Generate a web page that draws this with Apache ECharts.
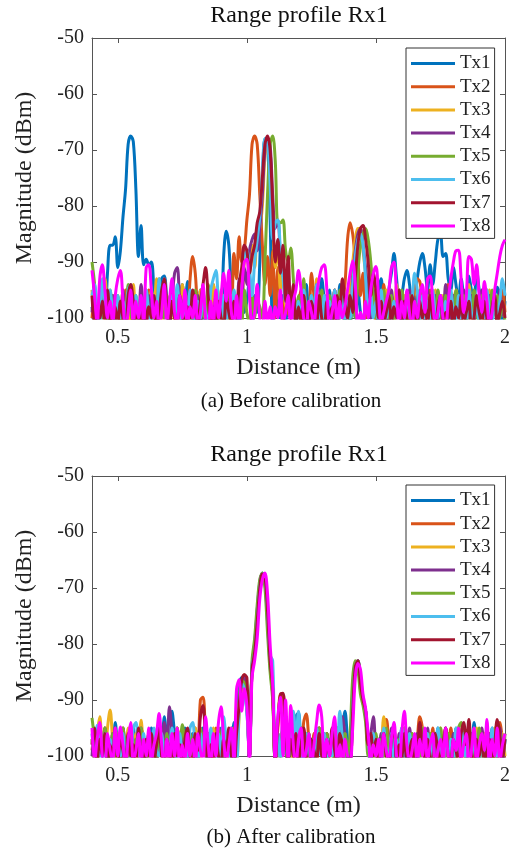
<!DOCTYPE html>
<html><head><meta charset="utf-8">
<script src="https://cdn.jsdelivr.net/npm/echarts@6/dist/echarts.min.js"></script>
<style>html,body{margin:0;padding:0;background:#fff}#c{width:513px;height:850px}</style>
</head><body><div id="c"></div>
<script>
// Distance samples (m)
const xs = [0.40,0.41,0.42,0.43,0.44,0.45,0.46,0.47,0.48,0.49,
0.50,0.51,0.52,0.53,0.54,0.55,0.56,0.57,0.58,0.59,
0.60,0.61,0.62,0.63,0.64,0.65,0.66,0.67,0.68,0.69,
0.70,0.71,0.72,0.73,0.74,0.75,0.76,0.77,0.78,0.79,
0.80,0.81,0.82,0.83,0.84,0.85,0.86,0.87,0.88,0.89,
0.90,0.91,0.92,0.93,0.94,0.95,0.96,0.97,0.98,0.99,
1.00,1.01,1.02,1.03,1.04,1.05,1.06,1.07,1.08,1.09,
1.10,1.11,1.12,1.13,1.14,1.15,1.16,1.17,1.18,1.19,
1.20,1.21,1.22,1.23,1.24,1.25,1.26,1.27,1.28,1.29,
1.30,1.31,1.32,1.33,1.34,1.35,1.36,1.37,1.38,1.39,
1.40,1.41,1.42,1.43,1.44,1.45,1.46,1.47,1.48,1.49,
1.50,1.51,1.52,1.53,1.54,1.55,1.56,1.57,1.58,1.59,
1.60,1.61,1.62,1.63,1.64,1.65,1.66,1.67,1.68,1.69,
1.70,1.71,1.72,1.73,1.74,1.75,1.76,1.77,1.78,1.79,
1.80,1.81,1.82,1.83,1.84,1.85,1.86,1.87,1.88,1.89,
1.90,1.91,1.92,1.93,1.94,1.95,1.96,1.97,1.98,1.99,
2.00];
const names = ['Tx1','Tx2','Tx3','Tx4','Tx5','Tx6','Tx7','Tx8'];
const colors = ['#0072BD','#D95319','#EDB120','#7E2F8E','#77AC30','#4DBEEE','#A2142F','#FF00FF'];
const xTicks = [0.5, 1, 1.5, 2];

// (a) Before calibration, magnitude in dBm
const before_Tx1 = [-98,-101,-97,-100,-99,-100,-92,-87,-87,-85.5,
-91,-88,-82,-77,-69,-67.5,-68.5,-77,-89,-83.5,
-90.5,-89.5,-90.5,-90,-95,-100,-97,-93,-92.5,-97,
-101,-96,-99,-100,-97,-94,-100,-93.5,-97,-101,
-98,-100,-95,-101,-99,-96,-100,-97,-101,-98,
-100,-89,-84.5,-87,-95,-100,-96,-101,-95,-99,
-97,-93,-101,-96,-99,-90,-76,-68,-69,-82,
-101,-95,-99,-100,-96,-101,-97,-100,-95,-99,
-100,-97,-101,-94,-99,-100,-96,-101,-98,-93,
-97,-101,-95,-100,-98,-101,-94,-100,-97,-99,
-101,-96,-100,-95,-99,-101,-97,-100,-94,-99,
-100,-96,-93,-98,-101,-95,-92,-88.5,-93,-97,
-96,-93,-91.5,-94,-98,-96,-93,-90,-88.5,-91,
-95,-90.5,-94,-90,-86,-85,-89,-88.5,-93,-95,
-91,-94,-97,-93,-96,-98,-92.5,-95,-97,-91.5,
-95,-98,-96,-99,-97,-100,-96,-94.5,-98,-101,
-97];
const before_Tx2 = [-100,-96,-101,-98,-95,-100,-97,-101,-96,-99,
-101,-97,-100,-95,-99,-101,-96,-100,-98,-101,
-97,-100,-95,-99,-101,-96,-100,-97,-94,-99,
-101,-96,-100,-98,-95,-101,-97,-100,-93,-89,
-92,-99,-101,-95,-100,-97,-101,-94,-99,-100,
-96,-101,-98,-95,-100,-88.5,-93,-85.5,-90,-88,
-82.5,-78,-69,-67.5,-69,-78,-87,-94,-89,-96,
-88,-100,-91,-97,-101,-94,-99,-100,-96,-101,
-98,-95,-100,-97,-101,-92,-96,-100,-98,-101,
-96,-100,-97,-101,-95,-99,-100,-97,-94,-86,
-83,-85,-89,-90,-96,-92,-100,-95,-99,-95,
-101,-97,-100,-94,-99,-101,-96,-100,-98,-95,
-99,-101,-96,-100,-97,-95,-93,-93.5,-97,-101,
-98,-95,-100,-97,-101,-96,-99,-100,-94,-99,
-101,-96,-100,-98,-95,-101,-97,-100,-96,-99,
-100,-97,-101,-95,-99,-100,-96,-101,-98,-95,
-99];
const before_Tx3 = [-95,-101,-97,-100,-96,-93,-99,-101,-96,-100,
-97,-101,-95,-100,-98,-101,-94,-99,-100,-96,
-101,-97,-100,-95,-99,-93,-97,-101,-96,-100,
-98,-95,-101,-97,-100,-94,-99,-101,-96,-100,
-97,-101,-95,-99,-100,-96,-101,-94,-98,-100,
-95,-100,-97,-101,-96,-99,-100,-94,-97,-90,
-88,-92,-87,-91,-85,-84,-80,-71,-68,-70,
-82,-91,-87,-95,-90,-98,-93,-100,-96,-101,
-97,-100,-94,-99,-101,-96,-100,-93,-98,-101,
-96,-100,-97,-101,-95,-99,-100,-96,-101,-98,
-93,-90,-86,-84,-84,-88,-92,-95,-99,-93,
-100,-96,-101,-98,-95,-100,-97,-101,-94,-99,
-100,-96,-101,-97,-99,-100,-95,-101,-98,-96,
-100,-97,-101,-95,-99,-100,-96,-101,-98,-100,
-97,-95,-99,-101,-96,-100,-94,-98,-101,-97,
-100,-96,-99,-101,-95,-100,-97,-101,-96,-99,
-100];
const before_Tx4 = [-99,-96,-101,-97,-100,-95,-99,-101,-96,-100,
-97,-101,-95,-100,-98,-96,-101,-97,-100,-94,
-99,-101,-96,-100,-97,-101,-95,-99,-100,-96,
-101,-97,-92,-91,-97,-100,-96,-101,-95,-99,
-100,-96,-101,-97,-100,-95,-99,-101,-96,-100,
-97,-101,-95,-99,-100,-96,-101,-93,-97,-91,
-94,-88,-86,-85,-88,-84,-78,-70,-68,-69,
-78,-84,-82.5,-89,-92,-97,-93,-100,-96,-101,
-98,-100,-95,-99,-101,-96,-100,-94,-99,-101,
-96,-100,-97,-101,-95,-99,-100,-97,-101,-96,
-99,-93,-88,-85,-84,-87,-91,-96,-100,-95,
-99,-101,-96,-100,-97,-101,-95,-99,-100,-96,
-101,-97,-100,-95,-99,-101,-96,-100,-97,-101,
-95,-99,-100,-96,-101,-97,-100,-94,-99,-101,
-96,-100,-97,-101,-95,-99,-100,-96,-101,-97,
-100,-95,-99,-101,-96,-100,-97,-101,-95,-99,
-100];
const before_Tx5 = [-90,-94,-101,-96,-100,-97,-101,-95,-99,-100,
-96,-101,-97,-100,-94,-99,-101,-96,-100,-97,
-101,-95,-99,-100,-96,-101,-93,-98,-100,-96,
-101,-97,-100,-95,-99,-101,-96,-100,-97,-101,
-95,-99,-100,-96,-101,-94,-99,-100,-96,-101,
-97,-100,-95,-99,-101,-96,-100,-97,-101,-95,
-99,-101,-96,-100,-97,-98,-100,-90,-78,-69,
-67.5,-72,-83,-83,-82.5,-88,-90,-87.5,-93,-99,
-96,-101,-93,-99,-100,-96,-101,-97,-100,-95,
-99,-101,-96,-100,-97,-101,-95,-99,-100,-96,
-101,-97,-100,-92,-87,-85,-84,-86,-90,-96,
-100,-97,-101,-95,-99,-100,-96,-101,-97,-100,
-95,-99,-101,-96,-100,-97,-101,-95,-99,-100,
-96,-101,-97,-100,-95,-99,-101,-96,-100,-97,
-101,-95,-99,-100,-96,-101,-97,-100,-95,-99,
-101,-96,-100,-97,-101,-95,-99,-96,-100,-97,
-101];
const before_Tx6 = [-96,-94,-99,-101,-93,-97,-100,-95,-99,-101,
-96,-100,-97,-101,-95,-94,-100,-96,-101,-97,
-100,-95,-99,-101,-96,-100,-93,-97,-93,-99,
-101,-96,-100,-94,-99,-101,-96,-100,-95,-99,
-101,-97,-100,-96,-99,-101,-95,-93,-91.5,-97,
-100,-96,-101,-97,-100,-95,-99,-101,-93,-89,
-88,-91,-96,-90,-86,-82,-74,-68,-68.5,-76,
-86,-83,-82.5,-88,-93,-97,-92,-100,-96,-101,
-97,-100,-95,-99,-101,-96,-100,-94,-99,-101,
-96,-100,-97,-101,-95,-99,-100,-96,-101,-97,
-100,-94,-89,-86,-85,-87,-93,-99,-96,-100,
-97,-101,-95,-99,-100,-96,-101,-97,-100,-95,
-99,-101,-96,-100,-97,-92,-95,-101,-96,-100,
-97,-101,-95,-99,-100,-96,-101,-97,-100,-95,
-99,-101,-96,-100,-97,-101,-95,-99,-100,-96,
-101,-97,-100,-95,-99,-101,-96,-100,-97,-93,
-96];
const before_Tx7 = [-96,-101,-98,-100,-97,-101,-95,-100,-102,-98,
-101,-97,-100,-102,-96,-94,-97,-101,-99,-102,
-97,-101,-98,-100,-96,-102,-99,-95,-93,-98,
-102,-97,-100,-101,-96,-99,-102,-98,-100,-95,
-99,-101,-97,-94,-91,-96,-101,-98,-102,-97,
-100,-102,-96,-99,-101,-97,-100,-94,-91,-87,
-88,-92,-89,-87,-83,-81,-75,-69,-67.5,-70,
-80,-90,-86,-92,-87,-97,-89,-100,-94,-101,
-98,-101,-96,-100,-102,-97,-99,-101,-96,-100,
-102,-97,-100,-98,-101,-96,-99,-93,-97,-100,
-96,-99,-93,-87,-84,-83.5,-86,-90,-96,-92,
-95,-100,-97,-101,-99,-96,-101,-98,-100,-95,
-101,-97,-100,-102,-96,-99,-101,-97,-100,-98,
-101,-96,-100,-102,-98,-96,-101,-99,-100,-97,
-102,-98,-100,-96,-101,-99,-97,-102,-100,-96,
-99,-101,-97,-100,-102,-98,-96,-101,-99,-97,
-100];
const before_Tx8 = [-91.5,-96,-101,-93,-90.5,-95,-100,-97,-101,-96,
-93,-91.5,-97,-102,-99,-95,-101,-97,-100,-96,
-101,-91,-90.5,-95,-100,-97,-102,-99,-94,-101,
-97,-93,-99,-101,-96,-100,-95,-102,-98,-100,
-96,-101,-99,-94,-100,-102,-97,-101,-95,-100,
-96,-92,-97,-91.5,-99,-101,-96,-102,-95,-90,
-89.5,-96,-101,-99,-94,-100,-102,-97,-101,-98,
-102,-98,-100,-95,-101,-99,-96,-102,-97,-95,
-91.5,-95,-100,-102,-97,-99,-101,-96,-93,-91,
-90.5,-95,-101,-99,-96,-102,-97,-100,-98,-95,
-92,-89.8,-94,-101,-99,-102,-97,-100,-95,-92,
-90.8,-96,-101,-99,-97,-95,-91,-90,-96,-101,
-97,-100,-95,-99,-102,-97,-100,-96,-94,-99,
-93,-92.5,-97,-101,-99,-96,-100,-102,-97,-93,
-90,-88,-87.9,-93,-99,-96,-89,-89.5,-94,-90.5,
-96,-99,-93.5,-97,-101,-99,-95,-92,-89,-87,
-86];

// (b) After calibration, magnitude in dBm
const after_Tx1 = [-97,-101,-95,-99,-100,-96,-101,-97,-100,-94,
-99,-101,-96,-100,-97,-101,-95,-99,-100,-96,
-101,-97,-100,-95,-99,-101,-96,-100,-93,-97,
-101,-92,-96,-100,-97,-101,-95,-99,-100,-96,
-101,-97,-100,-95,-99,-101,-96,-100,-97,-101,
-95,-99,-100,-96,-101,-94,-97,-87,-86,-88,
-92,-100,-84,-80,-74,-69,-67.3,-69,-76,-84,
-89,-101,-96,-100,-94,-99,-101,-96,-100,-93,
-92.3,-99,-101,-96,-100,-97,-101,-95,-99,-100,
-96,-101,-97,-100,-95,-99,-101,-96,-92,-97,
-101,-91,-83.5,-83.5,-88,-90.5,-93,-99,-101,-96,
-100,-97,-101,-95,-99,-100,-96,-101,-97,-100,
-95,-99,-101,-96,-100,-97,-101,-95,-99,-100,
-96,-101,-97,-100,-95,-99,-101,-96,-100,-97,
-101,-95,-99,-100,-96,-101,-97,-100,-94,-99,
-101,-96,-100,-97,-101,-95,-99,-100,-96,-101,
-97];
const after_Tx2 = [-99,-96,-101,-97,-100,-95,-99,-101,-96,-100,
-97,-101,-95,-99,-100,-96,-101,-97,-100,-95,
-99,-101,-96,-100,-97,-101,-95,-99,-100,-96,
-101,-97,-100,-95,-99,-101,-96,-100,-97,-101,
-95,-99,-90,-89.5,-96,-100,-97,-101,-95,-99,
-100,-96,-101,-97,-100,-95,-99,-91,-87,-85.5,
-89,-100,-84.5,-81.5,-76,-70,-67.5,-68,-74,-83,
-88.5,-101,-95,-89,-90,-96,-100,-97,-101,-95,
-99,-100,-94,-92.5,-97,-101,-96,-100,-95,-99,
-101,-96,-100,-97,-101,-95,-99,-100,-96,-101,
-100,-92,-84,-83,-87,-90,-92,-98,-101,-96,
-100,-97,-101,-94,-93.5,-98,-101,-96,-100,-97,
-101,-95,-99,-100,-96,-101,-97,-93,-95,-100,
-97,-101,-95,-99,-100,-96,-101,-97,-100,-95,
-99,-101,-96,-100,-97,-101,-95,-99,-100,-96,
-101,-97,-100,-95,-99,-101,-96,-100,-94,-97,
-101];
const after_Tx3 = [-97,-101,-96,-93,-99,-100,-95,-91.8,-97,-101,
-96,-100,-97,-101,-95,-99,-100,-96,-101,-93.6,
-98,-100,-96,-101,-97,-100,-95,-99,-101,-96,
-100,-97,-101,-95,-99,-100,-96,-101,-97,-100,
-95,-99,-101,-96,-100,-97,-101,-95,-99,-100,
-96,-101,-97,-100,-95,-99,-101,-93,-88,-87,
-90,-100,-84,-81.5,-76,-70,-67.5,-68,-74,-83,
-89,-100,-96,-101,-95,-99,-100,-96,-101,-97,
-100,-95,-99,-101,-96,-100,-97,-101,-95,-99,
-100,-96,-101,-97,-100,-95,-99,-101,-96,-100,
-101,-92,-84,-83,-87,-90,-92,-98,-100,-96,
-101,-97,-100,-93,-96,-99,-101,-96,-100,-97,
-101,-95,-99,-100,-96,-101,-97,-100,-95,-99,
-101,-96,-100,-97,-101,-95,-99,-100,-96,-101,
-97,-100,-95,-99,-101,-96,-100,-97,-101,-95,
-99,-100,-96,-101,-97,-100,-95,-99,-101,-96,
-100];
const after_Tx4 = [-100,-96,-101,-97,-100,-95,-99,-101,-96,-100,
-97,-101,-95,-99,-100,-96,-101,-97,-100,-95,
-99,-101,-96,-100,-97,-101,-95,-99,-94,-99,
-91.2,-96,-101,-97,-100,-95,-99,-101,-96,-100,
-97,-101,-95,-99,-100,-96,-101,-97,-100,-95,
-99,-101,-96,-100,-97,-101,-95,-91,-87,-86,
-90,-100,-84.5,-81.5,-76,-70,-67.5,-68,-74,-83,
-88,-101,-97,-100,-95,-99,-101,-96,-100,-97,
-101,-95,-99,-100,-96,-101,-97,-100,-95,-99,
-101,-96,-100,-97,-101,-95,-99,-93,-96,-100,
-101,-92,-84,-83,-87,-90,-92,-98,-96,-93,
-99,-101,-96,-100,-97,-101,-95,-99,-100,-96,
-101,-97,-100,-95,-99,-101,-96,-100,-97,-101,
-95,-99,-100,-96,-101,-97,-100,-95,-99,-101,
-96,-100,-97,-101,-95,-99,-100,-96,-101,-97,
-100,-95,-99,-101,-96,-100,-97,-101,-95,-99,
-101];
const after_Tx5 = [-93.2,-97,-101,-96,-100,-95,-99,-101,-96,-100,
-97,-101,-95,-99,-100,-96,-101,-97,-100,-95,
-99,-101,-96,-100,-97,-101,-95,-99,-100,-96,
-101,-97,-100,-95,-99,-94.4,-98,-101,-96,-100,
-97,-101,-95,-99,-100,-96,-101,-97,-100,-95,
-99,-101,-96,-100,-97,-101,-95,-90,-86.5,-87,
-91,-100,-83,-79,-73,-68.5,-67.3,-70,-78,-85,
-90,-101,-96,-100,-95,-99,-101,-96,-100,-97,
-101,-95,-99,-100,-96,-101,-97,-100,-95,-99,
-101,-96,-100,-97,-101,-95,-99,-100,-96,-101,
-96,-86,-83,-84.5,-89,-91,-94,-100,-97,-101,
-96,-100,-97,-101,-95,-99,-100,-96,-101,-97,
-100,-95,-99,-101,-96,-100,-97,-101,-95,-99,
-100,-96,-101,-97,-100,-95,-99,-101,-96,-100,
-97,-101,-95,-94,-99,-100,-96,-101,-97,-100,
-95,-99,-101,-96,-100,-97,-101,-95,-99,-100,
-96];
const after_Tx6 = [-96,-100,-94.5,-99,-101,-96,-100,-97,-101,-95,
-99,-100,-96,-101,-97,-100,-95,-94,-99,-101,
-96,-100,-97,-101,-95,-99,-100,-96,-101,-97,
-100,-95,-99,-101,-96,-100,-97,-101,-95,-94,
-99,-101,-96,-100,-97,-101,-95,-99,-100,-96,
-101,-93,-97,-100,-95,-99,-101,-92,-87,-88,
-92,-100,-84,-81.5,-76,-70,-67.5,-68,-74,-82,
-83,-100,-96,-101,-95,-99,-100,-96,-92,-97,
-92,-99,-101,-96,-100,-97,-101,-95,-99,-100,
-96,-101,-97,-100,-95,-99,-92,-97,-101,-100,
-101,-91,-84,-83,-86,-89.5,-92,-97,-101,-96,
-100,-97,-101,-95,-99,-100,-96,-101,-97,-100,
-95,-99,-101,-96,-100,-97,-101,-95,-99,-100,
-96,-101,-97,-100,-95,-99,-101,-96,-100,-97,
-101,-95,-99,-100,-96,-101,-97,-100,-95,-99,
-101,-96,-100,-97,-101,-95,-99,-100,-96,-101,
-97];
const after_Tx7 = [-98,-95,-101,-97,-100,-96,-102,-98,-100,-95,
-101,-97,-99,-102,-96,-100,-98,-101,-95,-99,
-102,-97,-100,-96,-101,-98,-95,-100,-102,-97,
-99,-101,-96,-100,-98,-102,-97,-95,-100,-101,
-96,-99,-93,-91,-97,-101,-98,-102,-96,-100,
-101,-97,-99,-95,-100,-102,-96,-91,-86.5,-85.5,
-86,-100,-84.5,-81.5,-76,-70,-67.5,-68,-74,-83,
-88,-101,-94,-89,-88.8,-95,-101,-97,-100,-96,
-101,-98,-95,-100,-102,-97,-99,-101,-96,-100,
-102,-97,-100,-95,-99,-101,-96,-98,-102,-100,
-101,-92,-84,-83,-87,-90,-92,-98,-96,-100,
-97,-101,-99,-96,-100,-102,-97,-95,-101,-98,
-100,-96,-101,-99,-97,-102,-100,-94,-98,-101,
-97,-100,-102,-96,-99,-101,-98,-95,-100,-102,
-97,-99,-101,-96,-94,-98,-93.5,-100,-102,-97,
-100,-96,-101,-99,-97,-102,-98,-93.5,-96,-101,
-97];
const after_Tx8 = [-95,-101,-97,-94,-100,-102,-96,-99,-101,-95,
-100,-94.8,-98,-102,-97,-94,-101,-99,-96,-102,
-97,-100,-95,-101,-98,-96,-92.4,-98,-102,-97,
-101,-96,-100,-95,-102,-98,-101,-96,-100,-97,
-102,-96,-99,-101,-93,-98,-102,-96,-100,-94,
-91.2,-97,-101,-98,-95,-101,-88,-86.4,-92,-88,
-91,-101,-86,-83,-79,-72,-68.5,-67.3,-71,-80,
-87,-101,-93,-89.5,-100,-90,-101,-91,-98,-102,
-97,-95,-101,-99,-96,-102,-98,-94,-90.9,-93,
-101,-97,-100,-96,-93,-101,-98,-102,-97,-100,
-101,-95,-86,-83.5,-84.5,-89,-91.5,-96,-101,-98,
-100,-97,-102,-96,-99,-101,-97,-94,-100,-102,
-96,-92,-98,-101,-99,-96,-102,-97,-100,-95,
-101,-98,-96,-102,-99,-97,-101,-95,-100,-102,
-97,-99,-95,-101,-98,-96,-102,-99,-95,-101,
-98,-96,-99,-93.5,-102,-97,-100,-95,-101,-98,
-96];

const before = [before_Tx1,before_Tx2,before_Tx3,before_Tx4,before_Tx5,before_Tx6,before_Tx7,before_Tx8];
const after = [after_Tx1,after_Tx2,after_Tx3,after_Tx4,after_Tx5,after_Tx6,after_Tx7,after_Tx8];

const FONT = 'Liberation Serif';
const AX = '#555';
const TXT = '#222';
const grids = [
  {left: 92, top: 38, width: 415, height: 280},
  {left: 92, top: 476, width: 415, height: 280}
];

const xAxis = [], yAxis = [];
grids.forEach((g, gi) => {
  xAxis.push({
    type: 'value', gridIndex: gi, min: 0.4, max: 2, position: 'bottom',
    axisLine: {show: true, lineStyle: {color: AX, width: 1}},
    axisTick: {show: true, inside: true, length: 5, lineStyle: {color: AX}, customValues: xTicks},
    axisLabel: {show: true, customValues: xTicks, fontFamily: FONT, fontSize: 20, color: TXT, margin: 10},
    splitLine: {show: false},
    name: 'Distance (m)', nameLocation: 'middle', nameGap: 38,
    nameTextStyle: {fontFamily: FONT, fontSize: 24, color: TXT}
  });
  xAxis.push({
    type: 'value', gridIndex: gi, min: 0.4, max: 2, position: 'top',
    axisLine: {show: true, lineStyle: {color: AX, width: 1}},
    axisTick: {show: true, inside: true, length: 5, lineStyle: {color: AX}, customValues: xTicks},
    axisLabel: {show: false}, splitLine: {show: false}
  });
  yAxis.push({
    type: 'value', gridIndex: gi, min: -100, max: -50, interval: 10, position: 'left',
    axisLine: {show: true, lineStyle: {color: AX, width: 1}},
    axisTick: {show: true, inside: true, length: 5, lineStyle: {color: AX}},
    axisLabel: {show: true, fontFamily: FONT, fontSize: 20, color: TXT, margin: 8},
    splitLine: {show: false},
    name: 'Magnitude (dBm)', nameLocation: 'middle', nameGap: 50,
    nameTextStyle: {fontFamily: FONT, fontSize: 24, color: TXT}
  });
  yAxis.push({
    type: 'value', gridIndex: gi, min: -100, max: -50, interval: 10, position: 'right',
    axisLine: {show: true, lineStyle: {color: AX, width: 1}},
    axisTick: {show: true, inside: true, length: 5, lineStyle: {color: AX}},
    axisLabel: {show: false}, splitLine: {show: false}
  });
});

const series = [];
[before, after].forEach((set, gi) => {
  set.forEach((arr, i) => {
    series.push({
      type: 'line', name: names[i], xAxisIndex: gi * 2, yAxisIndex: gi * 2,
      data: xs.map((x, k) => [x, arr[k]]),
      symbol: 'none', smooth: 0.35, clip: true,
      lineStyle: {width: 3, color: colors[i]}, itemStyle: {color: colors[i]},
      emphasis: {disabled: true}
    });
  });
});

const legendBase = {
  orient: 'vertical', left: 406, data: names,
  icon: 'rect', itemWidth: 44, itemHeight: 3, itemGap: 4.2,
  padding: [6, 4, 3, 5],
  borderColor: '#333', borderWidth: 1, backgroundColor: '#fff',
  textStyle: {fontFamily: FONT, fontSize: 19, color: TXT}
};

const textEl = (t, x, y, size) => ({
  type: 'text', x: x, y: y,
  style: {text: t, fontFamily: FONT, fontSize: size, fill: '#111', textAlign: 'center', textVerticalAlign: 'middle'}
});

const chart = echarts.init(document.getElementById('c'), null, {renderer: 'canvas'});
chart.setOption({
  animation: false,
  backgroundColor: '#fff',
  grid: grids,
  xAxis: xAxis, yAxis: yAxis,
  legend: [Object.assign({top: 48}, legendBase), Object.assign({top: 485}, legendBase)],
  series: series,
  graphic: [
    textEl('Range profile Rx1', 299, 16, 24),
    textEl('(a) Before calibration', 291, 401, 21),
    textEl('Range profile Rx1', 299, 455, 24),
    textEl('(b) After calibration', 291, 837, 21)
  ]
});
</script></body></html>
